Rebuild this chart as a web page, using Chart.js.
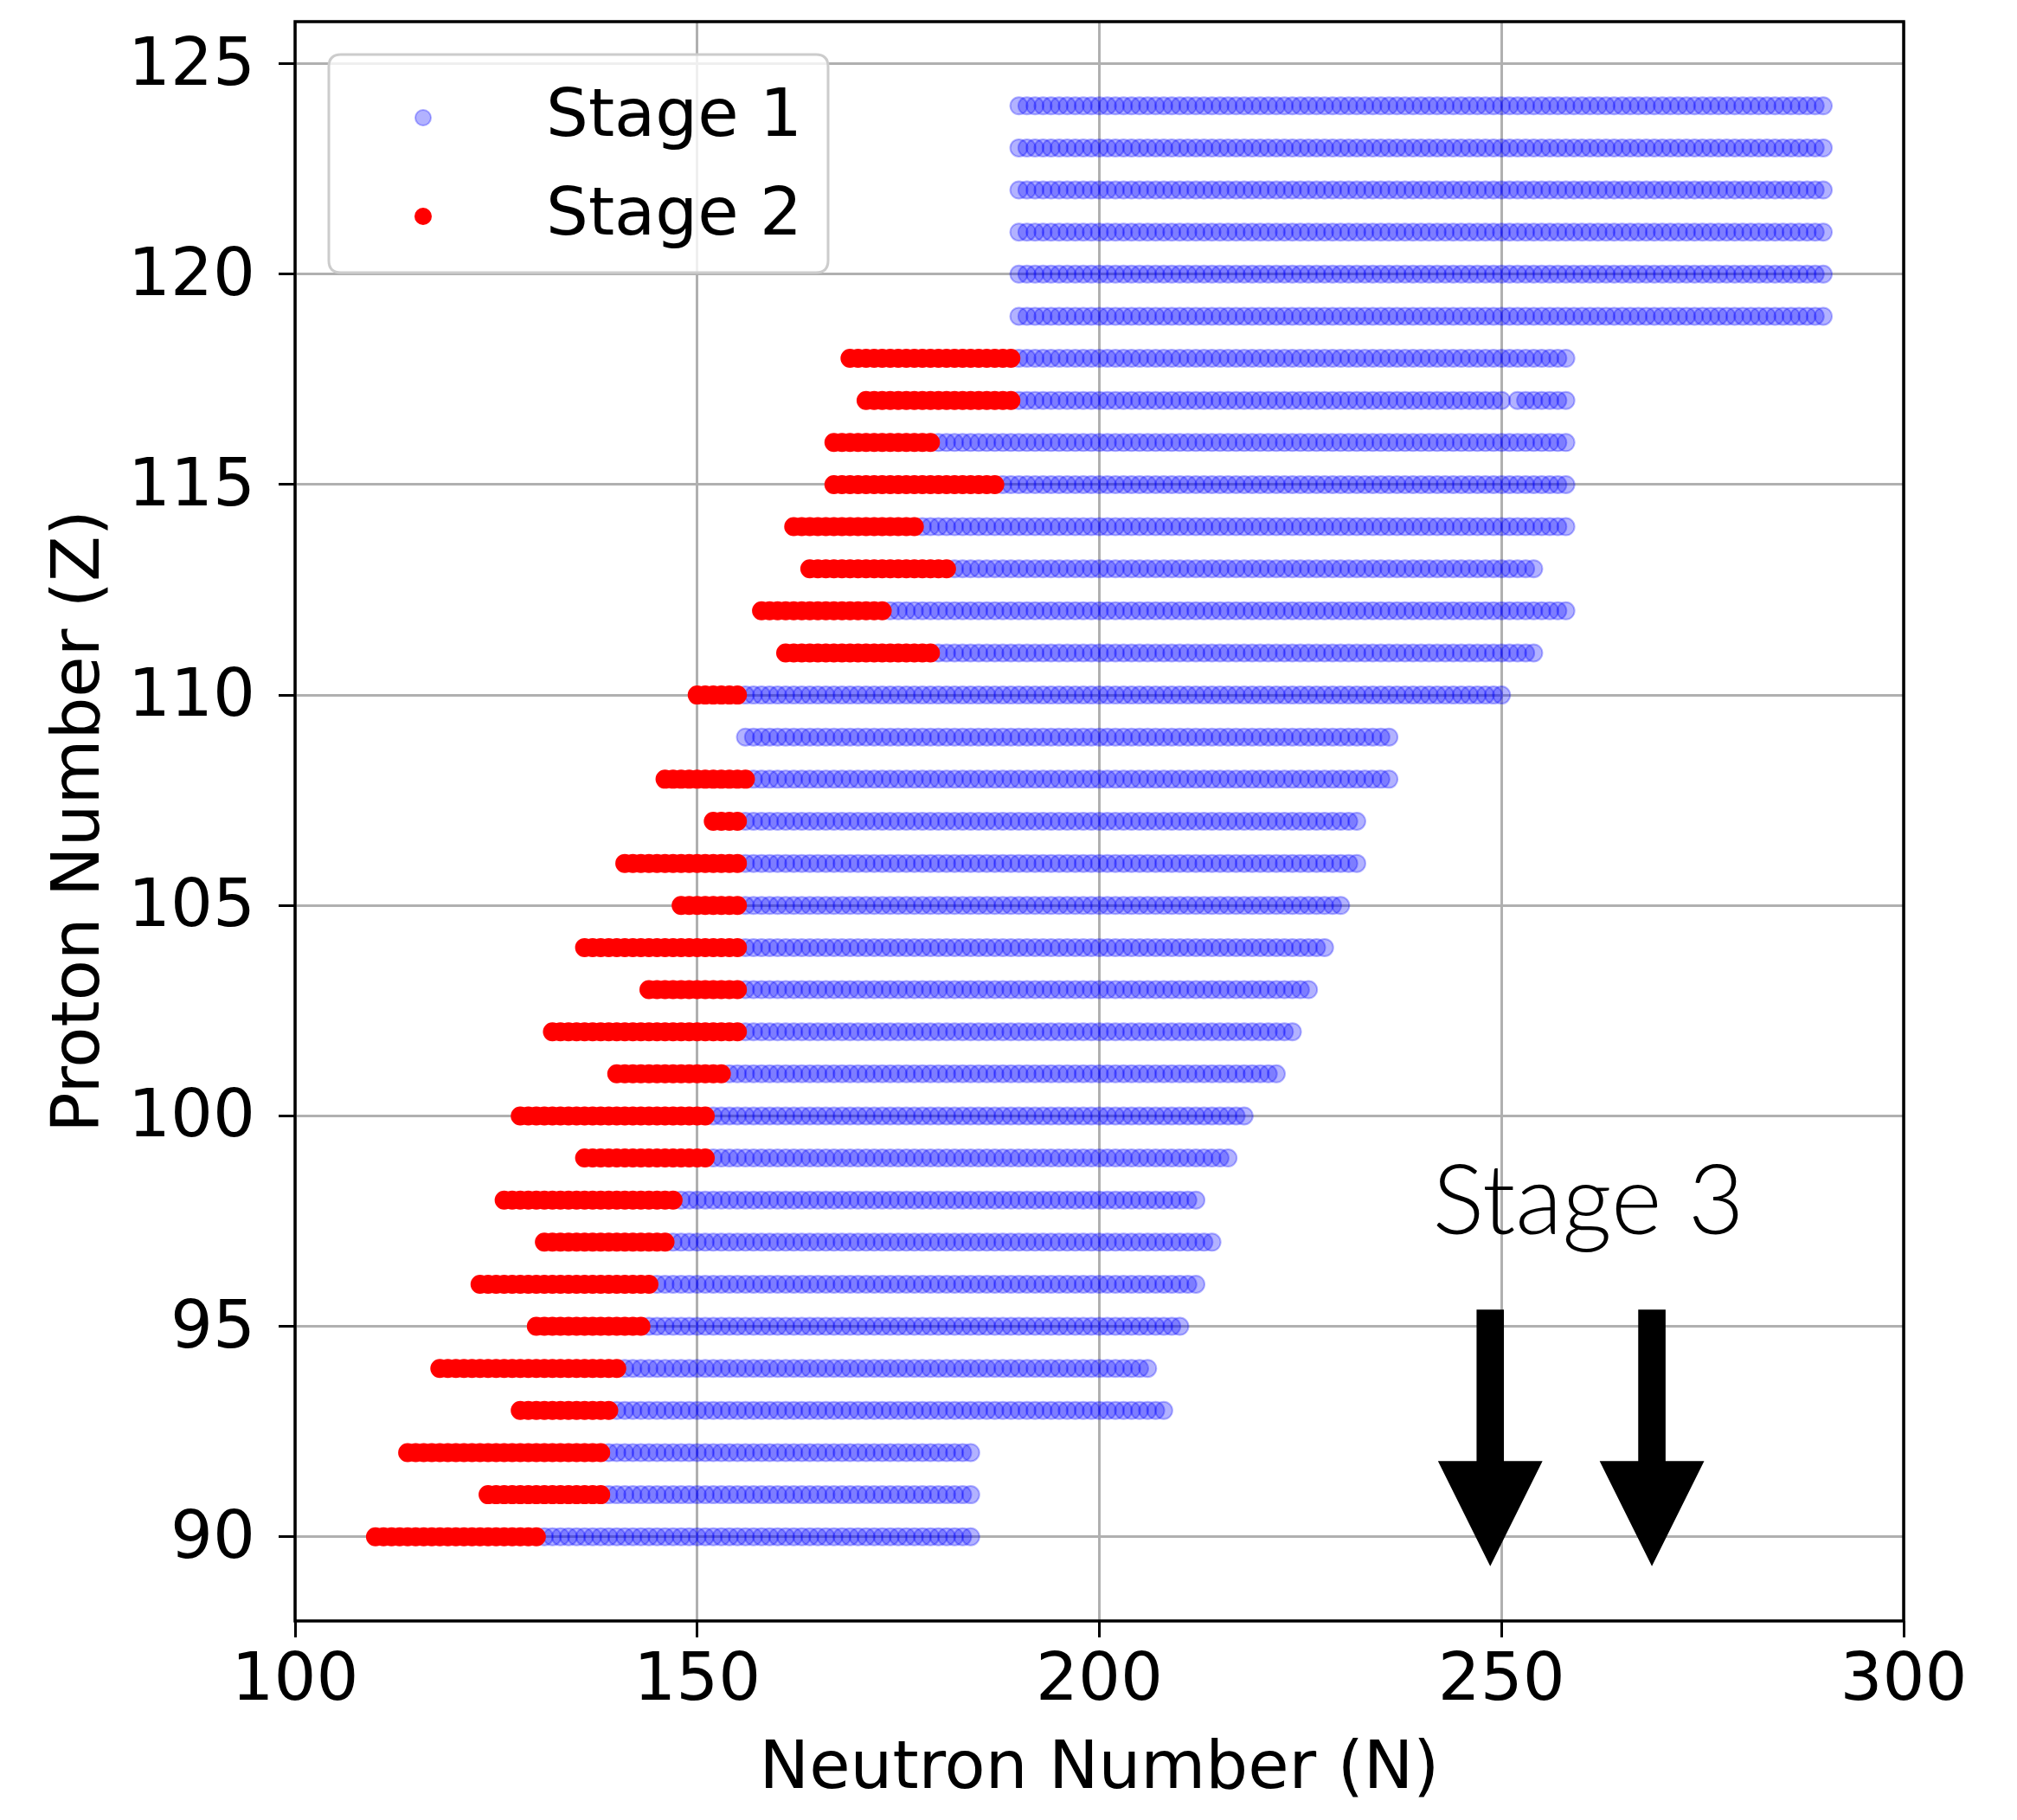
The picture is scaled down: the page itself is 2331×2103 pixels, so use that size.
<!DOCTYPE html>
<html>
<head>
<meta charset="utf-8">
<title>Superheavy nuclei stages</title>
<script src="https://cdn.jsdelivr.net/npm/chart.js@4.4.1/dist/chart.umd.min.js"></script>
<style>
  html, body { margin: 0; padding: 0; background: #ffffff; }
  canvas { display: block; }
</style>
</head>
<body>
<canvas id="chart" width="2331" height="2103"></canvas>
<script>
// Proton number of each row and the neutron-number range covered by each stage.
const protonNumbers = [90, 91, 92, 93, 94, 95, 96, 97, 98, 99,
                       100, 101, 102, 103, 104, 105, 106, 107, 108, 109,
                       110, 111, 112, 113, 114, 115, 116, 117, 118, 119,
                       120, 121, 122, 123, 124];
const stage2First = [110, 124, 114, 128, 118, 130, 123, 131, 126, 136,
                     128, 140, 132, 144, 136, 148, 141, 152, 146, null,
                     150, 161, 158, 164, 162, 167, 167, 171, 169, null,
                     null, null, null, null, null];
const stage2Last  = [130, 138, 138, 139, 140, 143, 144, 146, 147, 151,
                     151, 153, 155, 155, 155, 155, 155, 155, 156, null,
                     155, 179, 173, 181, 177, 187, 179, 189, 189, null,
                     null, null, null, null, null];
const stage1First = [131, 139, 139, 140, 141, 144, 145, 147, 148, 152,
                     152, 154, 156, 156, 156, 156, 156, 156, 157, 156,
                     156, 180, 174, 182, 178, 188, 180, 190, 190, 190,
                     190, 190, 190, 190, 190];
const stage1Last  = [184, 184, 184, 208, 206, 210, 212, 214, 212, 216,
                     218, 222, 224, 226, 228, 230, 232, 232, 236, 236,
                     250, 254, 258, 254, 258, 258, 258, 258, 258, 290,
                     290, 290, 290, 290, 290];
// Nuclei missing inside a Stage 1 row.
const stage1GapZ = [117];
const stage1GapN = [251];

const xTicks = [100, 150, 200, 250, 300];
const yTicks = [90, 95, 100, 105, 110, 115, 120, 125];

// "Stage 3" annotation: two downward arrows (data units) and a label.
const stage3ArrowN = [248.6, 268.7];
const stage3ArrowTopZ = 95.4;
const stage3ArrowHeadZ = 91.8;
const stage3ArrowTipZ = 89.3;
const stage3ShaftHalfN = 1.7;
const stage3HeadHalfN = 6.5;
const stage3Label = 'Stage 3';
const stage3LabelN = 260.8;
const stage3LabelZ = 97.2;

const FONT = "'DejaVu Sans', 'Liberation Sans', sans-serif";
const FONT_SIZE = 77;

function isGap(z, n) {
  for (let k = 0; k < stage1GapZ.length; k++) {
    if (stage1GapZ[k] === z && stage1GapN[k] === n) return true;
  }
  return false;
}

const stage1Points = [];
const stage2Points = [];
protonNumbers.forEach((z, i) => {
  for (let n = stage1First[i]; n <= stage1Last[i]; n++) {
    if (!isGap(z, n)) stage1Points.push({ x: n, y: z });
  }
  if (stage2First[i] !== null) {
    for (let n = stage2First[i]; n <= stage2Last[i]; n++) {
      stage2Points.push({ x: n, y: z });
    }
  }
});

const frameAndNotes = {
  id: 'frameAndNotes',
  afterDraw(chart) {
    const { ctx, chartArea: a, scales: { x, y } } = chart;
    ctx.save();

    // axes frame
    ctx.strokeStyle = '#000000';
    ctx.lineWidth = 3.5;
    ctx.strokeRect(a.left, a.top, a.right - a.left, a.bottom - a.top);

    // Stage 3 arrows
    ctx.fillStyle = '#000000';
    stage3ArrowN.forEach(n => {
      const cx = x.getPixelForValue(n);
      const sw = x.getPixelForValue(n + stage3ShaftHalfN) - cx;
      const hw = x.getPixelForValue(n + stage3HeadHalfN) - cx;
      const top = y.getPixelForValue(stage3ArrowTopZ);
      const head = y.getPixelForValue(stage3ArrowHeadZ);
      const tip = y.getPixelForValue(stage3ArrowTipZ);
      ctx.beginPath();
      ctx.moveTo(cx - sw, top);
      ctx.lineTo(cx + sw, top);
      ctx.lineTo(cx + sw, head);
      ctx.lineTo(cx + hw, head);
      ctx.lineTo(cx, tip);
      ctx.lineTo(cx - hw, head);
      ctx.lineTo(cx - sw, head);
      ctx.closePath();
      ctx.fill();
    });

    // Stage 3 label
    ctx.font = "300 112px Lato, 'Open Sans', sans-serif";
    ctx.textAlign = 'center';
    ctx.textBaseline = 'alphabetic';
    ctx.fillText(stage3Label, x.getPixelForValue(stage3LabelN), y.getPixelForValue(stage3LabelZ));

    // legend box
    const lx = a.left + 39, ly = a.top + 38, lw = 577, lh = 252, r = 14;
    ctx.beginPath();
    ctx.moveTo(lx + r, ly);
    ctx.lineTo(lx + lw - r, ly);
    ctx.quadraticCurveTo(lx + lw, ly, lx + lw, ly + r);
    ctx.lineTo(lx + lw, ly + lh - r);
    ctx.quadraticCurveTo(lx + lw, ly + lh, lx + lw - r, ly + lh);
    ctx.lineTo(lx + r, ly + lh);
    ctx.quadraticCurveTo(lx, ly + lh, lx, ly + lh - r);
    ctx.lineTo(lx, ly + r);
    ctx.quadraticCurveTo(lx, ly, lx + r, ly);
    ctx.closePath();
    ctx.fillStyle = 'rgba(255,255,255,0.8)';
    ctx.fill();
    ctx.strokeStyle = 'rgba(204,204,204,1)';
    ctx.lineWidth = 3;
    ctx.stroke();

    chart.data.datasets.forEach((ds, i) => {
      const my = ly + 73 + i * 114;
      const mx = lx + 109;
      ctx.beginPath();
      ctx.arc(mx, my, 9, 0, Math.PI * 2);
      ctx.fillStyle = ds.pointBackgroundColor;
      ctx.fill();
      ctx.lineWidth = ds.pointBorderWidth;
      ctx.strokeStyle = ds.pointBorderColor;
      ctx.stroke();
      ctx.fillStyle = '#000000';
      ctx.font = FONT_SIZE + 'px ' + FONT;
      ctx.textAlign = 'left';
      ctx.textBaseline = 'middle';
      ctx.fillText(ds.label, lx + 251, my + 1);
    });

    ctx.restore();
  }
};

function fixTicks(values) {
  return scale => { scale.ticks = values.map(v => ({ value: v })); };
}

new Chart(document.getElementById('chart'), {
  type: 'scatter',
  data: {
    datasets: [
      {
        label: 'Stage 1',
        data: stage1Points,
        order: 1,
        pointRadius: 10,
        pointBorderWidth: 2,
        pointBackgroundColor: 'rgba(0,0,255,0.3)',
        pointBorderColor: 'rgba(0,0,255,0.3)'
      },
      {
        label: 'Stage 2',
        data: stage2Points,
        order: 0,
        pointRadius: 10,
        pointBorderWidth: 2,
        pointBackgroundColor: 'rgba(255,0,0,1)',
        pointBorderColor: 'rgba(255,0,0,1)'
      }
    ]
  },
  options: {
    responsive: false,
    animation: false,
    devicePixelRatio: 1,
    events: [],
    layout: { padding: { left: 0, right: 131, top: 25, bottom: 0 } },
    plugins: {
      legend: { display: false },
      tooltip: { enabled: false }
    },
    scales: {
      x: {
        type: 'linear',
        min: 100,
        max: 300,
        z: 1,
        afterBuildTicks: fixTicks(xTicks),
        afterFit: s => {
          s.height = 230;
          s.paddingLeft = 0; s.paddingRight = 0; s.paddingTop = 0; s.paddingBottom = 0;
        },
        grid: { color: '#b0b0b0', lineWidth: 3, drawTicks: true, tickLength: 19, tickColor: '#000000', tickWidth: 3 },
        border: { display: false },
        ticks: { font: { family: FONT, size: FONT_SIZE }, color: '#000000', padding: 6, maxRotation: 0, autoSkip: false, callback: v => String(v) },
        title: { display: true, text: 'Neutron Number (N)', font: { family: FONT, size: FONT_SIZE }, color: '#000000', padding: { top: 0, bottom: 11 } }
      },
      y: {
        type: 'linear',
        min: 88,
        max: 126,
        z: 1,
        afterBuildTicks: fixTicks(yTicks),
        afterFit: s => {
          s.width = 341;
          s.paddingLeft = 0; s.paddingRight = 0; s.paddingTop = 0; s.paddingBottom = 0;
        },
        grid: { color: '#b0b0b0', lineWidth: 3, drawTicks: true, tickLength: 19, tickColor: '#000000', tickWidth: 3 },
        border: { display: false },
        ticks: { font: { family: FONT, size: FONT_SIZE }, color: '#000000', padding: 27, labelOffset: 4, autoSkip: false, callback: v => String(v) },
        title: { display: true, text: 'Proton Number (Z)', font: { family: FONT, size: FONT_SIZE }, color: '#000000', padding: { top: 48, bottom: 0 } }
      }
    }
  },
  plugins: [frameAndNotes]
});
</script>
</body>
</html>
